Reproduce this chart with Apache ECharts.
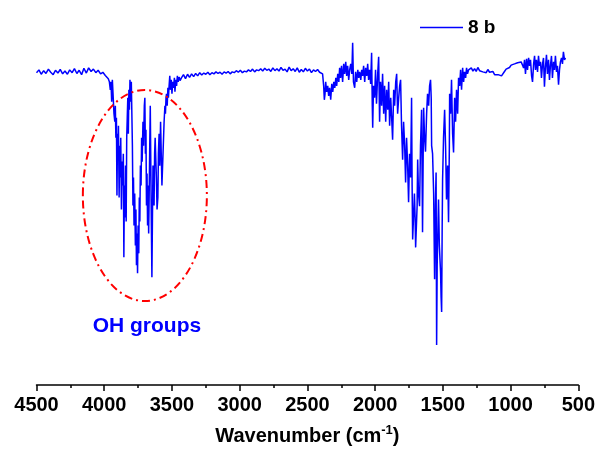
<!DOCTYPE html>
<html>
<head>
<meta charset="utf-8">
<script src="https://cdn.jsdelivr.net/npm/echarts@6/dist/echarts.min.js"></script>
<style>
  html, body { margin: 0; padding: 0; background: #fff; }
  #chart { width: 598px; height: 451px; }
</style>
</head>
<body>
<div id="chart"></div>
<script>
// FTIR spectrum of sample 8 b: wavenumber (cm-1) and transmittance (%)
const wavenumbers = [
  4500,4482,4465,4447,4430,4412,4395,4377,4360,4342,4325,4307,4290,4272,4255,4237,4220,4202,4185,4167,
  4150,4132,4115,4097,4080,4062,4045,4027,4010,3992,3980,3970,3962,3955,3950,3945,3940,3935,3928,3922,
  3918,3914,3910,3906,3902,3898,3895,3890,3886,3882,3878,3873,3868,3864,3859,3855,3851,3847,3843,3838,
  3834,3830,3826,3822,3818,3814,3810,3805,3800,3796,3792,3788,3784,3780,3775,3770,3766,3762,3758,3754,
  3750,3745,3741,3737,3733,3728,3724,3720,3714,3710,3704,3700,3696,3692,3688,3684,3680,3676,3672,3668,
  3664,3660,3656,3652,3648,3644,3640,3636,3632,3628,3624,3619,3615,3610,3604,3600,3595,3590,3584,3579,
  3574,3569,3564,3558,3552,3548,3544,3540,3535,3530,3526,3521,3516,3511,3505,3500,3494,3488,3482,3478,
  3472,3466,3460,3454,3447,3440,3430,3415,3400,3385,3370,3355,3340,3325,3310,3295,3280,3265,3250,3235,
  3220,3205,3190,3175,3160,3145,3130,3115,3100,3085,3070,3055,3040,3025,3010,2995,2980,2965,2950,2935,
  2920,2905,2890,2875,2860,2845,2830,2815,2800,2785,2770,2755,2740,2725,2710,2695,2680,2665,2650,2635,
  2620,2605,2590,2575,2560,2545,2530,2515,2500,2485,2470,2455,2440,2425,2410,2398,2388,2380,2375,2370,
  2365,2358,2350,2343,2336,2328,2320,2313,2305,2298,2290,2284,2276,2268,2262,2255,2248,2240,2232,2225,
  2217,2210,2203,2195,2188,2180,2172,2166,2160,2151,2144,2136,2128,2121,2114,2106,2099,2092,2085,2077,
  2070,2062,2055,2048,2041,2033,2026,2021,2018,2012,2004,1997,1990,1981,1974,1967,1960,1952,1945,1937,
  1930,1922,1915,1907,1900,1893,1885,1878,1871,1863,1856,1848,1841,1834,1826,1819,1812,1805,1797,1790,
  1782,1775,1768,1760,1753,1746,1738,1731,1727,1723,1716,1710,1705,1701,1694,1690,1686,1680,1672,1665,
  1657,1650,1646,1642,1635,1628,1620,1613,1605,1598,1591,1586,1583,1576,1568,1561,1555,1550,1546,1542,
  1539,1532,1526,1517,1513,1509,1505,1502,1495,1487,1480,1473,1465,1458,1452,1450,1443,1436,1428,1421,
  1413,1406,1399,1391,1384,1376,1369,1362,1354,1347,1340,1332,1325,1318,1310,1303,1290,1278,1266,1254,
  1242,1229,1217,1205,1192,1180,1168,1155,1143,1131,1118,1104,1092,1080,1067,1055,1045,1033,1020,1008,
  996,984,971,960,948,934,922,912,904,897,890,882,875,867,860,853,845,838,830,823,
  816,809,801,794,787,779,772,764,757,750,743,735,728,720,713,706,698,691,683,676,
  669,661,654,646,639,632,624,617,610,602,595
];
const transmittance = [
  78.3,79.0,77.9,78.8,78.1,79.2,78.4,77.8,78.9,78.2,79.1,78.0,78.7,77.9,79.0,78.3,79.3,78.1,78.9,77.8,
  79.4,78.2,79.5,78.6,79.2,78.3,78.9,78.0,78.4,77.6,77.9,76.8,76.0,74.0,76.0,71.0,76.5,73.0,68.0,66.0,
  70.0,62.0,67.0,47.5,63.0,58.0,65.0,47.0,60.0,52.0,62.0,44.0,56.0,50.0,58.0,32.0,50.0,42.0,55.0,41.0,
  62.0,67.0,72.0,63.0,74.0,69.0,76.5,71.0,76.0,76.5,60.0,45.0,52.0,40.0,48.0,35.0,44.0,30.0,38.0,28.0,
  40.0,33.0,47.0,41.0,55.0,50.0,62.0,56.0,66.0,60.0,70.0,72.0,58.0,64.0,45.0,53.0,40.0,50.0,38.0,48.0,
  60.0,70.0,55.0,40.0,27.0,42.0,55.0,48.0,45.0,58.0,62.0,62.0,52.0,44.0,47.0,58.0,63.0,55.0,66.0,58.0,
  50.0,49.5,60.0,66.0,70.0,68.0,72.0,73.0,70.0,74.5,72.0,75.0,77.5,74.0,76.5,73.0,76.0,74.5,77.0,73.5,
  76.5,75.0,77.5,76.0,77.2,76.3,77.0,77.8,76.8,77.9,77.1,78.0,77.3,78.1,77.5,78.3,77.7,78.2,77.9,78.4,
  77.8,78.3,78.0,78.5,78.1,78.4,77.9,78.5,78.2,78.6,78.0,78.5,78.3,78.8,78.4,78.9,78.3,78.7,78.5,79.0,
  78.6,79.2,78.5,79.0,78.8,79.3,78.7,79.4,78.9,79.2,78.6,79.5,78.8,79.3,78.7,79.6,78.9,79.2,78.5,79.7,
  78.8,79.3,78.6,79.5,78.4,79.1,78.5,79.4,78.7,79.2,78.3,79.0,78.6,79.1,78.4,78.8,78.0,75.0,71.5,73.0,
  76.0,73.5,75.0,72.5,74.5,71.5,75.5,73.5,76.0,74.5,77.0,75.0,78.0,76.0,79.5,77.0,80.0,76.0,80.5,78.0,
  81.0,77.5,80.0,76.5,79.0,80.5,78.0,85.8,76.0,74.5,78.5,76.0,79.0,77.0,78.5,76.5,79.0,77.5,80.0,76.0,
  79.5,77.5,80.5,76.5,79.0,75.5,83.3,70.0,64.5,75.0,72.0,79.0,70.5,78.0,82.3,66.0,76.0,70.0,78.0,68.0,
  75.0,66.0,74.0,69.0,76.0,65.0,72.0,67.0,61.5,74.0,70.0,76.0,78.0,68.0,72.0,75.0,76.5,65.0,56.5,66.0,
  60.0,50.8,62.0,55.0,45.8,58.0,52.0,72.0,50.0,36.5,36.0,48.0,42.0,34.5,34.0,45.0,56.5,48.0,44.8,60.0,
  69.0,38.3,55.0,69.5,62.0,58.5,68.0,73.0,70.0,75.0,76.5,72.0,60.0,58.0,48.0,26.5,45.0,53.3,10.0,30.0,
  35.0,46.5,35.0,28.3,22.0,18.3,40.0,51.5,62.0,69.0,60.0,46.5,55.0,40.8,60.0,73.0,68.0,76.5,63.0,58.3,
  72.0,66.0,74.0,68.0,77.0,75.0,79.0,74.0,79.5,76.0,78.5,77.0,79.5,78.0,79.0,78.8,79.5,78.7,79.3,78.6,
  79.6,78.8,79.2,78.5,79.0,78.3,79.1,78.4,78.0,78.6,77.8,78.3,77.8,78.2,77.5,78.0,78.6,79.2,78.8,79.6,
  80.2,79.8,80.5,80.0,80.8,80.3,81.0,80.2,79.5,81.5,78.0,81.8,79.0,82.0,80.0,81.5,77.5,76.0,80.5,82.5,
  79.0,81.5,78.5,82.5,80.0,81.0,77.0,80.5,82.0,74.8,79.5,82.8,78.0,81.5,76.5,80.0,82.5,77.0,81.0,79.0,
  82.5,78.5,80.0,75.3,79.0,81.0,82.0,80.5,83.5,81.5,82.0
];
const xTicks = { min: 500, max: 4500, step: 500 };
const seriesName = '8 b';
const bandLabel = 'OH groups';
// centre of the O-H stretching band marked on the spectrum
const bandCentre = [3700, 47.5];
const bandLabelAt = [3685, 14.75];

const spectrum = wavenumbers.map((w, i) => [w, transmittance[i]]);

const chart = echarts.init(document.getElementById('chart'), null, { renderer: 'canvas' });
const font = '"Liberation Sans", Arial, sans-serif';

chart.setOption({
  animation: false,
  backgroundColor: '#ffffff',
  grid: { left: 36.5, right: 19, top: 26, bottom: 65, containLabel: false },
  legend: {
    data: [seriesName],
    left: 415, top: 13,
    icon: 'rect', itemWidth: 43, itemHeight: 1.5,
    itemStyle: { color: '#0000FF' },
    textStyle: { fontFamily: font, fontWeight: 'bold', fontSize: 19, color: '#000' }
  },
  xAxis: {
    type: 'value',
    inverse: true,
    min: xTicks.min, max: xTicks.max, interval: xTicks.step,
    splitLine: { show: false },
    axisLine: { show: true, onZero: false, lineStyle: { color: '#000', width: 1.5 } },
    axisTick: { show: true, inside: false, length: 6, lineStyle: { color: '#000', width: 1.5 } },
    minorTick: { show: true, splitNumber: 2, length: 3, lineStyle: { color: '#000', width: 1.5 } },
    axisLabel: {
      margin: 10, fontFamily: font, fontWeight: 'bold', fontSize: 20, color: '#000',
      formatter: v => String(v)
    },
    name: '{a|Wavenumber (cm}{s|-1}{a|)}',
    nameLocation: 'middle',
    nameGap: 39,
    nameTextStyle: {
      rich: {
        a: { fontFamily: font, fontWeight: 'bold', fontSize: 20, color: '#000', verticalAlign: 'bottom', lineHeight: 22 },
        s: { fontFamily: font, fontWeight: 'bold', fontSize: 13, color: '#000', verticalAlign: 'top', lineHeight: 22, padding: [0, 0, 8, 0] }
      }
    }
  },
  yAxis: {
    type: 'value', min: 0, max: 90, show: false,
    splitLine: { show: false }
  },
  series: [{
    name: seriesName,
    type: 'line',
    data: spectrum,
    showSymbol: false,
    symbol: 'none',
    sampling: null,
    lineStyle: { color: '#0000FF', width: 1.5 },
    itemStyle: { color: '#0000FF' }
  }]
});

// dash-dot ellipse around the O-H band and its caption
const c = chart.convertToPixel({ xAxisIndex: 0, yAxisIndex: 0 }, bandCentre);
const t = chart.convertToPixel({ xAxisIndex: 0, yAxisIndex: 0 }, bandLabelAt);
chart.setOption({
  graphic: [
    {
      type: 'ellipse',
      shape: { cx: c[0], cy: c[1], rx: 62, ry: 105.5 },
      style: { fill: null, stroke: '#FF0000', lineWidth: 2, lineDash: [8, 4, 2, 4] },
      z: 10
    },
    {
      type: 'text',
      x: t[0], y: t[1],
      style: {
        text: bandLabel, fill: '#0000FF',
        font: 'bold 21px ' + font,
        align: 'center', verticalAlign: 'middle'
      },
      z: 10
    }
  ]
});
</script>
</body>
</html>
